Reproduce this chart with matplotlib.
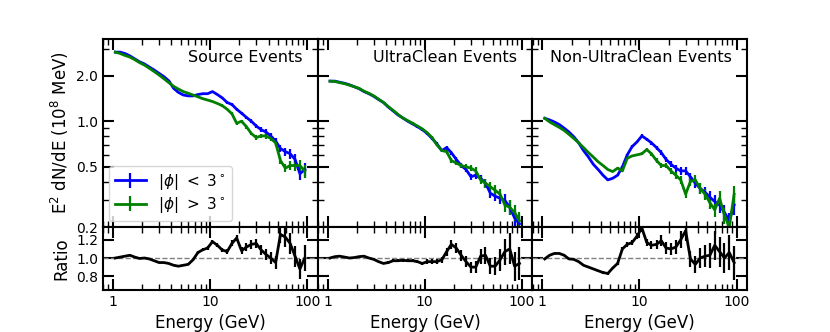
import numpy as np
import matplotlib
matplotlib.use("Agg")
import matplotlib.pyplot as plt
from matplotlib.ticker import FixedLocator, FormatStrFormatter, NullFormatter, LogLocator

# energy bin centres (GeV)
energy = [1.06, 1.19, 1.33, 1.50, 1.68, 1.88, 2.11, 2.37, 2.66, 2.99,
          3.35, 3.76, 4.22, 4.73, 5.31, 5.96, 6.68, 7.50, 8.41, 9.44,
          10.6, 11.9, 13.3, 15.0, 16.8, 18.8, 21.1, 23.7, 26.6, 29.9,
          33.5, 37.6, 42.2, 47.3, 53.1, 59.6, 66.8, 75.0, 84.1, 94.4]

titles = ["Source Events", "UltraClean Events", "Non-UltraClean Events"]

# E^2 dN/dE in 1e8 MeV, |phi| < 3 deg (inner) and |phi| > 3 deg (outer)
src_in = [2.86, 2.86, 2.80, 2.70, 2.58, 2.47, 2.39, 2.28, 2.18, 2.07,
          1.97, 1.85, 1.65, 1.55, 1.49, 1.47, 1.47, 1.50, 1.52, 1.52,
          1.57, 1.50, 1.43, 1.33, 1.29, 1.20, 1.13, 1.06, 1.00, 0.93,
          0.88, 0.85, 0.80, 0.74, 0.66, 0.63, 0.61, 0.56, 0.45, 0.48]
src_out = [2.86, 2.80, 2.72, 2.65, 2.55, 2.44, 2.35, 2.24, 2.13, 2.02,
           1.91, 1.80, 1.70, 1.63, 1.57, 1.53, 1.49, 1.45, 1.41, 1.38,
           1.35, 1.31, 1.27, 1.20, 1.12, 0.97, 1.00, 0.92, 0.83, 0.78,
           0.80, 0.80, 0.77, 0.72, 0.55, 0.49, 0.51, 0.51, 0.51, 0.47]

uc_in = [1.84, 1.84, 1.81, 1.78, 1.74, 1.69, 1.64, 1.57, 1.52, 1.46,
         1.39, 1.33, 1.24, 1.17, 1.10, 1.05, 1.00, 0.96, 0.92, 0.88,
         0.83, 0.77, 0.71, 0.64, 0.67, 0.62, 0.56, 0.51, 0.48, 0.43,
         0.44, 0.42, 0.39, 0.335, 0.32, 0.31, 0.30, 0.27, 0.23, 0.21]
uc_out = [1.84, 1.83, 1.80, 1.77, 1.73, 1.69, 1.65, 1.58, 1.53, 1.47,
          1.40, 1.33, 1.25, 1.18, 1.11, 1.05, 1.01, 0.97, 0.93, 0.89,
          0.84, 0.78, 0.70, 0.64, 0.63, 0.55, 0.53, 0.51, 0.50, 0.49,
          0.47, 0.41, 0.39, 0.37, 0.35, 0.33, 0.28, 0.27, 0.25, 0.22]

nuc_in = [1.046, 1.02, 0.99, 0.95, 0.90, 0.85, 0.79, 0.72, 0.64, 0.58,
          0.52, 0.48, 0.44, 0.41, 0.42, 0.44, 0.50, 0.60, 0.68, 0.73,
          0.80, 0.76, 0.72, 0.67, 0.62, 0.56, 0.52, 0.49, 0.47, 0.47,
          0.43, 0.39, 0.36, 0.34, 0.315, 0.295, 0.28, 0.25, 0.22, 0.28]
nuc_out = [1.046, 0.99, 0.95, 0.91, 0.87, 0.82, 0.77, 0.72, 0.67, 0.62,
           0.58, 0.54, 0.51, 0.48, 0.465, 0.49, 0.47, 0.57, 0.59, 0.60,
           0.61, 0.65, 0.61, 0.55, 0.51, 0.51, 0.47, 0.44, 0.41, 0.33,
           0.40, 0.41, 0.36, 0.33, 0.29, 0.26, 0.31, 0.24, 0.20, 0.33]

# ratio inner / outer as shown in the lower panels
src_ratio = [1.00, 1.01, 1.02, 1.03, 1.01, 0.995, 1.00, 0.99, 0.97, 0.95,
             0.95, 0.94, 0.92, 0.91, 0.92, 0.93, 0.98, 1.06, 1.09, 1.11,
             1.18, 1.14, 1.09, 1.07, 1.16, 1.22, 1.08, 1.12, 1.15, 1.16,
             1.09, 1.04, 1.00, 0.95, 1.26, 1.23, 1.16, 1.02, 0.88, 1.00]
uc_ratio = [1.00, 1.015, 1.02, 1.01, 1.00, 1.005, 1.015, 1.02, 1.00, 0.985,
            0.96, 0.94, 0.95, 0.97, 0.97, 0.975, 0.97, 0.97, 0.96, 0.94,
            0.96, 0.96, 0.96, 0.98, 1.07, 1.15, 1.11, 1.03, 0.96, 0.90,
            0.90, 1.02, 1.03, 0.91, 0.91, 0.98, 1.07, 1.10, 0.91, 0.94]
nuc_ratio = [0.99, 1.03, 1.05, 1.05, 1.03, 0.99, 0.985, 0.96, 0.92, 0.90,
             0.88, 0.86, 0.84, 0.83, 0.89, 0.94, 1.10, 1.15, 1.17, 1.24,
             1.33, 1.17, 1.14, 1.15, 1.19, 1.11, 1.10, 1.12, 1.20, 1.30,
             0.99, 0.93, 1.00, 1.02, 1.03, 1.14, 1.07, 1.00, 1.06, 0.95]

# fractional flux uncertainty per bin
src_err = [0.004] * 10 + [0.006, 0.006, 0.007, 0.007, 0.008, 0.008, 0.009, 0.010, 0.010, 0.012,
                          0.012, 0.014, 0.016, 0.018, 0.020, 0.022, 0.025, 0.028, 0.030, 0.033,
                          0.036, 0.040, 0.045, 0.050, 0.056, 0.063, 0.070, 0.080, 0.090, 0.100]
uc_err = [0.005] * 10 + [0.007, 0.008, 0.009, 0.010, 0.011, 0.012, 0.013, 0.014, 0.015, 0.016,
                         0.018, 0.020, 0.023, 0.026, 0.029, 0.032, 0.036, 0.040, 0.044, 0.048,
                         0.053, 0.058, 0.064, 0.070, 0.077, 0.085, 0.095, 0.110, 0.125, 0.140]
nuc_err = [0.006] * 10 + [0.008, 0.009, 0.010, 0.011, 0.012, 0.013, 0.015, 0.016, 0.018, 0.020,
                          0.022, 0.025, 0.028, 0.032, 0.036, 0.040, 0.045, 0.050, 0.055, 0.060,
                          0.066, 0.072, 0.079, 0.086, 0.094, 0.100, 0.110, 0.120, 0.130, 0.140]

inner = [src_in, uc_in, nuc_in]
outer = [src_out, uc_out, nuc_out]
ratios = [src_ratio, uc_ratio, nuc_ratio]
errs = [src_err, uc_err, nuc_err]

fig = plt.figure(figsize=(8.3, 3.32), dpi=100)
gs = fig.add_gridspec(2, 3, height_ratios=[3, 1], left=0.124, right=0.9,
                      top=0.883, bottom=0.127, hspace=0, wspace=0)

E = np.array(energy)
for i in range(3):
    ax = fig.add_subplot(gs[0, i])
    rax = fig.add_subplot(gs[1, i])
    fin = np.array(inner[i])
    fout = np.array(outer[i])
    rel = np.array(errs[i])
    r = np.array(ratios[i])

    ax.errorbar(E, fin, yerr=fin * rel, color="blue", lw=2, elinewidth=1.6,
                capsize=0, label=r"$|\phi|\ <\ 3^\circ$")
    ax.errorbar(E, fout, yerr=fout * rel, color="green", lw=2, elinewidth=1.6,
                capsize=0, label=r"$|\phi|\ >\ 3^\circ$")
    ax.set_xscale("log")
    ax.set_yscale("log")
    ax.set_xlim(0.79, 128)
    ax.set_ylim(0.2, 3.5)
    ax.yaxis.set_major_locator(FixedLocator([0.2, 0.5, 1.0, 2.0]))
    ax.yaxis.set_minor_locator(LogLocator(base=10, subs=np.arange(2, 10)))
    ax.yaxis.set_major_formatter(FormatStrFormatter("%.1f"))
    ax.yaxis.set_minor_formatter(NullFormatter())
    ax.xaxis.set_major_formatter(NullFormatter())
    ax.xaxis.set_minor_formatter(NullFormatter())
    ax.text(0.93, 0.94, titles[i], transform=ax.transAxes, ha="right",
            va="top", fontsize=11.5)

    rax.axhline(1.0, color="gray", ls="--", lw=1)
    rax.errorbar(E, r, yerr=r * rel * 1.41, color="black", lw=2,
                 elinewidth=1.6, capsize=0)
    rax.set_xscale("log")
    rax.set_xlim(0.79, 128)
    rax.set_ylim(0.65, 1.34)
    rax.set_yticks([0.8, 1.0, 1.2])
    rax.yaxis.set_major_formatter(FormatStrFormatter("%.1f"))
    rax.xaxis.set_major_formatter(FormatStrFormatter("%g"))
    rax.xaxis.set_minor_formatter(NullFormatter())
    rax.set_xlabel("Energy (GeV)", fontsize=12)

    for a in (ax, rax):
        a.tick_params(which="both", direction="in", top=True, right=True,
                      labelsize=10)
        a.tick_params(which="major", length=8, width=1.5)
        a.tick_params(which="minor", length=4, width=1)
        for s in a.spines.values():
            s.set_linewidth(1.5)

    if i == 0:
        ax.set_ylabel(r"E$^2$ dN/dE (10$^8$ MeV)", fontsize=12)
        rax.set_ylabel("Ratio", fontsize=12)
        ax.legend(loc="lower left", fontsize=11, labelspacing=0.2,
                  borderaxespad=0.4)
    else:
        ax.tick_params(labelleft=False)
        rax.tick_params(labelleft=False)

fig.savefig("out.png", dpi=100)
